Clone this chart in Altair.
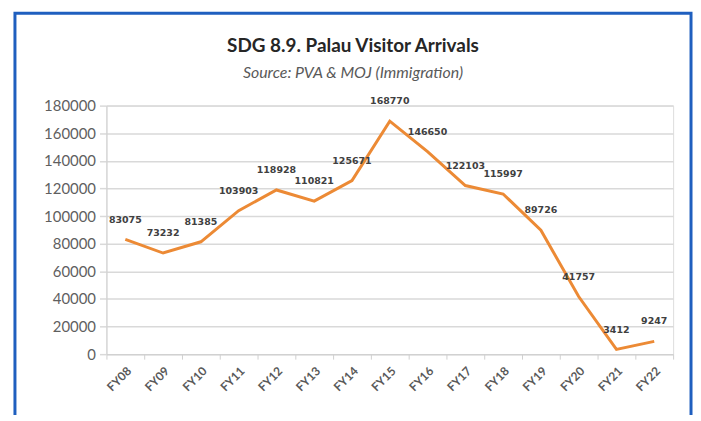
import altair as alt
import pandas as pd

years = ["FY08", "FY09", "FY10", "FY11", "FY12", "FY13", "FY14", "FY15",
         "FY16", "FY17", "FY18", "FY19", "FY20", "FY21", "FY22"]
arrivals = [83075, 73232, 81385, 103903, 118928, 110821, 125671, 168770,
            146650, 122103, 115997, 89726, 41757, 3412, 9247]
y_ticks = [0, 20000, 40000, 60000, 80000, 100000, 120000, 140000, 160000, 180000]
title_text = "SDG 8.9. Palau Visitor Arrivals"
subtitle_text = "Source: PVA & MOJ (Immigration)"

df = pd.DataFrame({"year": years, "arrivals": arrivals})

x_enc = alt.X("year:N", sort=years, bandPosition=0.5,
              scale=alt.Scale(type="band", paddingInner=0, paddingOuter=0),
              axis=alt.Axis(title=None, labelAngle=-45, tickBand="extent",
                            labelFont="Lato", labelFontSize=12, labelFontWeight="bold",
                            labelColor="#595959", domainColor="#d0d0d0", tickColor="#d0d0d0",
                            tickSize=5, labelPadding=6, grid=False))
y_enc = alt.Y("arrivals:Q",
              scale=alt.Scale(domain=[0, 180000], nice=False),
              axis=alt.Axis(title=None, values=y_ticks, format="d", labelOverlap=False,
                            labelFont="Lato", labelFontSize=15, labelColor="#5f5f5f",
                            gridColor="#d9d9d9", gridWidth=1.5,
                            domainColor="#d0d0d0", tickColor="#d9d9d9", tickWidth=1.5,
                            tickSize=7, labelPadding=4))

base = alt.Chart(df)

line = base.mark_line(color="#EC8A35", strokeWidth=3).encode(x=x_enc, y=y_enc)

labels = base.mark_text(dy=-20, font="DejaVu Sans", fontSize=9.5, fontWeight="bold",
                        color="#404040").encode(
    x=x_enc,
    y=y_enc,
    text=alt.Text("arrivals:Q", format="d"),
)

one = pd.DataFrame({"f": [0]})

frame = alt.Chart(one).mark_rect(
    fillOpacity=0, stroke="#1F5FBF", strokeWidth=3
).encode(x=alt.value(-92), x2=alt.value(588), y=alt.value(-93), y2=alt.value(340))

title = alt.Chart(one).mark_text(
    font="Lato", fontSize=19, fontWeight="bold", color="#262626", baseline="middle"
).encode(x=alt.value(248), y=alt.value(-60), text=alt.value(title_text))

subtitle = alt.Chart(one).mark_text(
    font="Lato", fontSize=16, fontStyle="italic", color="#595959", baseline="middle"
).encode(x=alt.value(248), y=alt.value(-33), text=alt.value(subtitle_text))

chart = alt.layer(line, labels, frame, title, subtitle).properties(
    width=570,
    height=250,
    autosize=alt.AutoSizeParams(type="none"),
    padding={"left": 99, "top": 97, "right": 20, "bottom": 60},
).configure_view(stroke=None).configure_axisY(labelOverlap=False).configure(background="white")

chart.save("out.html", embed_options={"renderer": "svg", "actions": False})
